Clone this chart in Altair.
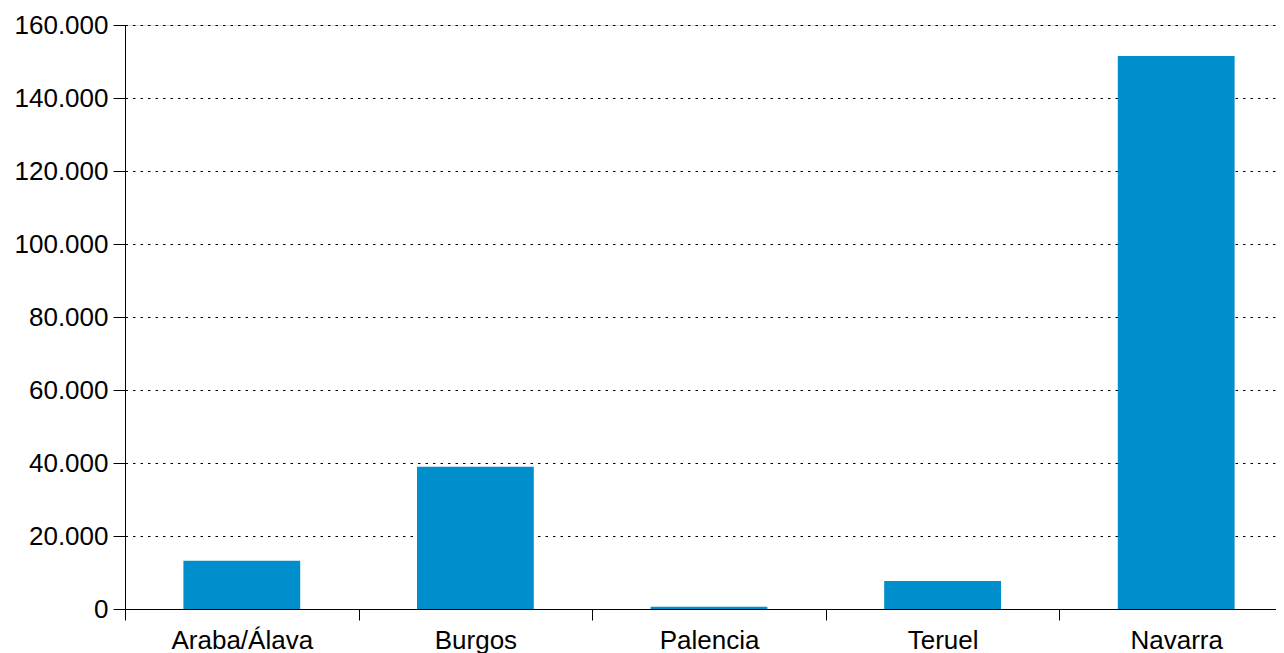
import altair as alt
import pandas as pd

provincias = ["Araba/Álava", "Burgos", "Palencia", "Teruel", "Navarra"]
valores = [13200, 39000, 600, 7700, 151500]
y_ticks = [0, 20000, 40000, 60000, 80000, 100000, 120000, 140000, 160000]

df = pd.DataFrame({"provincia": provincias, "valor": valores})

FONT = "Liberation Sans"

chart = alt.Chart(df).mark_bar(color="#008ECC", width={"band": 0.5}).encode(
    x=alt.X(
        "provincia:N",
        sort=provincias,
        title=None,
        scale=alt.Scale(paddingInner=0, paddingOuter=0, range=[0, 1168]),
        axis=alt.Axis(
            labelAngle=0,
            tickBand="extent",
            tickSize=11,
            tickColor="#000000",
            domainColor="#000000",
            labelFont=FONT,
            labelFontSize=26,
            labelColor="#000000",
            labelPadding=7,
            grid=False,
        ),
    ),
    y=alt.Y(
        "valor:Q",
        title=None,
        scale=alt.Scale(domain=[0, 160000], nice=False),
        axis=alt.Axis(
            values=y_ticks,
            format=",d",
            tickSize=12,
            tickColor="#000000",
            domainColor="#000000",
            labelFont=FONT,
            labelFontSize=26,
            labelColor="#000000",
            labelPadding=5,
            grid=True,
            gridColor="#000000",
            gridDash=[2.5, 5],
            gridWidth=1,
        ),
    ),
).properties(
    width=1151,
    height=584,
    padding={"left": 117, "top": 17, "right": 0, "bottom": 44},
    autosize=alt.AutoSizeParams(type="none"),
).configure_view(stroke=None).configure(
    locale={"number": {"decimal": ",", "thousands": ".", "grouping": [3], "currency": ["", " €"]}}
)

chart.save("out.html", embed_options={"renderer": "svg", "actions": False})
